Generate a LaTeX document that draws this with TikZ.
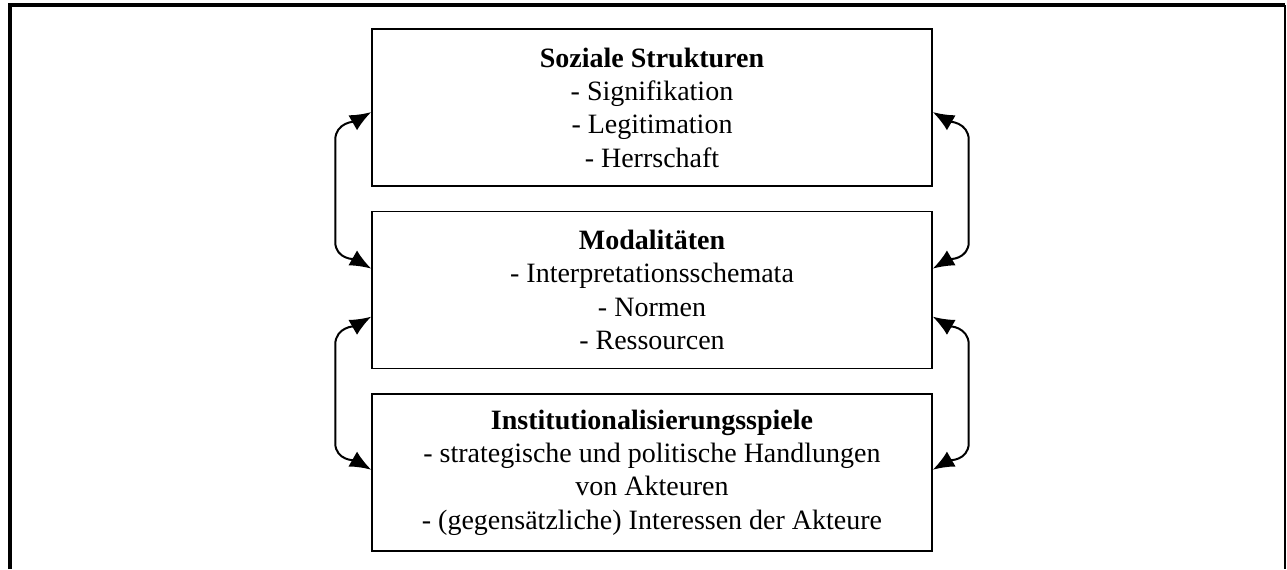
\documentclass[tikz,border=0pt]{standalone}
\usepackage{fontspec}
\setmainfont{Liberation Serif}
\usetikzlibrary{positioning,arrows.meta}

\begin{document}
\begin{tikzpicture}[x=0.75pt,y=-0.75pt,node distance=18pt,
                    >={Latex[length=16pt,width=13pt]},
                    level box/.style={rectangle,draw,line width=1.1pt,minimum width=420pt,
                      minimum height=117.75pt,align=center,font=\fontsize{21}{25}\selectfont},
                    link/.style={<->,line width=1.5pt}]
  \useasboundingbox (0,0) rectangle (1287,569);

  % outer frame
  \draw[line width=3pt] (10,569) -- (10,5) -- (1285,5);
  \draw[line width=1.2pt] (1285,5) -- (1285,569);

  \node[level box] (struct) at (652,107.5) {\textbf{Soziale Strukturen}\\- Signifikation\\- Legitimation\\- Herrschaft};
  \node[level box] (modal) [below=of struct] {\textbf{Modalitäten}\\- Interpretationsschemata\\- Normen\\- Ressourcen};
  \node[level box] (inst) [below=of modal] {\textbf{Institutionalisierungsspiele}\\- strategische und politische Handlungen\\von Akteuren\\- (gegensätzliche) Interessen der Akteure};

  % left side
  \draw[link] ([yshift=-3.4pt]struct.west) to[out=210,in=90] ++(-27pt,-21pt)
    -- ([xshift=-27pt,yshift=36pt]modal.west) to[out=-90,in=150] ([yshift=16pt]modal.west);
  \draw[link] ([yshift=-20pt]modal.west) to[out=210,in=90] ++(-27pt,-21pt)
    -- ([xshift=-27pt,yshift=22pt]inst.west) to[out=-90,in=150] ([yshift=2pt]inst.west);
  % right side
  \draw[link] ([yshift=-3.4pt]struct.east) to[out=-30,in=90] ++(27pt,-21pt)
    -- ([xshift=27pt,yshift=36pt]modal.east) to[out=-90,in=30] ([yshift=16pt]modal.east);
  \draw[link] ([yshift=-20pt]modal.east) to[out=-30,in=90] ++(27pt,-21pt)
    -- ([xshift=27pt,yshift=22pt]inst.east) to[out=-90,in=30] ([yshift=2pt]inst.east);
\end{tikzpicture}
\end{document}
